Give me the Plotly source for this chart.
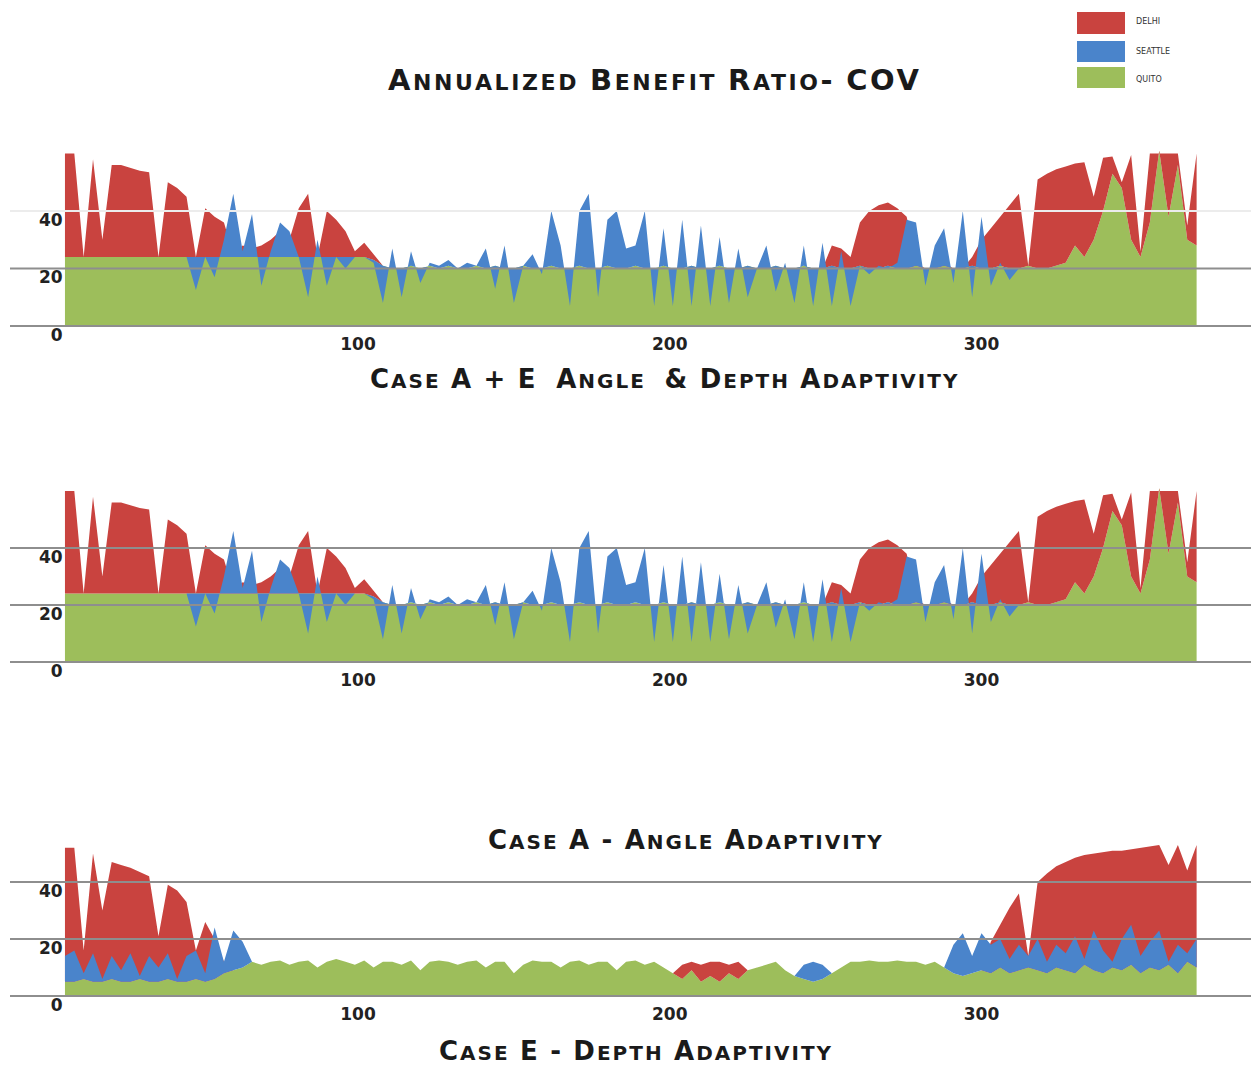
import plotly.graph_objects as go

# page offset of the figure inside the browser page (default body margin)
OFF = 8
W, H = 1259 - OFF, 1068 - OFF

days = list(range(6, 370, 3))

# ---- Case A + E (panels 1 & 2) ----
quito_ae = [24, 24, 24, 24, 24, 24, 24, 24, 24, 24, 24, 24, 24, 24, 24, 24, 24, 24, 24, 24,
            24, 24, 24, 24, 24, 24, 24, 24, 24, 24, 24, 24, 24, 23, 21, 20, 20, 21, 20, 21,
            20, 21, 20, 20, 21, 20, 21, 20, 20, 21, 20, 20, 21, 20, 20, 21, 20, 20, 21, 20,
            20, 21, 20, 20, 21, 20, 20, 21, 20, 20, 21, 20, 20, 21, 20, 20, 21, 20, 20, 21,
            20, 20, 21, 20, 20, 21, 20, 20, 21, 20, 20, 21, 20, 20, 21, 20, 20, 21, 20, 20,
            21, 20, 20, 21, 20, 20, 21, 22, 28, 24, 30, 40, 53, 48, 30, 24, 36, 61, 38, 56,
            30, 28]
delhi_ae = [60, 60, 24, 58, 30, 56, 56, 55, 54, 53.5, 24, 50, 48, 45, 24, 41, 38, 36, 25, 28,
            27, 28, 30, 33, 30, 41, 46, 24, 40, 37, 33, 26, 29, 25, 21, 20, 20, 21, 20, 21,
            20, 21, 20, 20, 21, 20, 21, 20, 20, 21, 20, 20, 21, 20, 20, 21, 20, 20, 21, 20,
            20, 21, 20, 20, 21, 20, 20, 21, 20, 20, 21, 20, 20, 21, 20, 20, 21, 20, 20, 21,
            20, 20, 28, 27, 24, 36, 40, 42, 43, 41, 38, 22, 20, 20, 22, 20, 20, 24, 30, 34,
            38, 42, 46, 21, 51, 53, 54.5, 55.5, 56.5, 57, 45, 58.5, 59, 50, 59.5, 26, 60, 60, 60, 60,
            35, 60]
seattle_ae = [24, 24, 24, 24, 24, 24, 24, 24, 24, 24, 24, 24, 24, 24, 12.5, 24, 17, 30, 46, 26,
              39, 14, 26, 36, 33, 24, 10, 30, 14, 24, 20, 24, 24, 22, 8, 27, 10, 26, 15, 22,
              21, 23, 20, 22, 21, 27, 13, 28, 8, 21, 25, 18, 40, 28, 7, 40, 46, 10, 37, 40,
              27, 28, 40, 7, 34, 7, 37, 7, 35, 7, 31, 8, 27, 10, 20, 28, 12, 22, 8, 28,
              7, 29, 7, 26, 7, 21, 18, 21, 20, 22, 37, 36, 14, 28, 34, 15, 40, 10, 38, 14,
              22, 16, 20, 21, 20, 20, 21, 22, 28, 24, 30, 40, 53, 48, 30, 24, 36, 61, 38, 56,
              30, 28]

# ---- Case E (panel 3) ----
quito_e = [5, 5, 6, 5, 5, 6, 5, 5, 6, 5, 5, 6, 5, 5, 6, 5, 6, 8, 9, 10,
           12, 11, 12, 12.5, 11, 12, 12.5, 10, 12, 13, 12, 11, 12.5, 10, 12, 12, 11, 12.5, 9, 12,
           12.5, 12, 11, 12, 12.5, 10, 12, 12, 8, 11, 12.5, 12, 12, 10, 12, 12.5, 11, 12, 12, 9,
           12, 12.5, 11, 12, 10, 8, 6, 9, 5, 7, 5, 8, 6, 9, 10, 11, 12, 9, 7, 6,
           5, 6, 8, 10, 12, 12, 12.5, 12, 12, 12.5, 12, 12, 11, 12, 10, 8, 7, 8, 9, 8,
           10, 8, 9, 10, 9, 8, 10, 9, 8, 11, 9, 8, 10, 9, 11, 8, 10, 9, 11, 8,
           12, 10]
delhi_e = [52, 52, 16, 50, 30, 47, 46, 45, 43.5, 42, 21, 39, 37, 33, 16, 26, 20, 12, 9, 10,
           12, 11, 12, 12.5, 11, 12, 12.5, 10, 12, 13, 12, 11, 12.5, 10, 12, 12, 11, 12.5, 9, 12,
           12.5, 12, 11, 12, 12.5, 10, 12, 12, 8, 11, 12.5, 12, 12, 10, 12, 12.5, 11, 12, 12, 9,
           12, 12.5, 11, 12, 10, 8, 11, 12, 11, 12, 12, 11, 12, 9, 10, 11, 12, 9, 7, 6,
           5, 6, 8, 10, 12, 12, 12.5, 12, 12, 12.5, 12, 12, 11, 12, 10, 8, 7, 8, 9, 19,
           25, 31, 36, 14, 40, 43, 45.5, 47, 48.5, 49.5, 50, 50.5, 51, 51, 51.5, 52, 52.5, 53, 46, 53,
           44, 53]
seattle_e = [14, 16, 8, 15, 6, 14, 9, 15, 7, 14, 10, 15, 6, 14, 16, 8, 24, 12, 23, 19,
             12, 11, 12, 12.5, 11, 12, 12.5, 10, 12, 13, 12, 11, 12.5, 10, 12, 12, 11, 12.5, 9, 12,
             12.5, 12, 11, 12, 12.5, 10, 12, 12, 8, 11, 12.5, 12, 12, 10, 12, 12.5, 11, 12, 12, 9,
             12, 12.5, 11, 12, 10, 8, 6, 9, 5, 7, 5, 8, 6, 9, 10, 11, 12, 9, 7, 11,
             12, 11, 8, 10, 12, 12, 12.5, 12, 12, 12.5, 12, 12, 11, 12, 10, 18, 22, 14, 22, 18,
             20, 13, 18, 14, 20, 12, 18, 15, 21, 13, 23, 16, 12, 20, 25, 14, 19, 23, 12, 18,
             15, 20]

x_tick_vals = [100, 200, 300]
y_tick_vals = [0, 20, 40]
y_tick_text = ["\u20070", "20", "40"]
city_names = ["DELHI", "SEATTLE", "QUITO"]
city_colors = {"DELHI": "#C9433F", "SEATTLE": "#4A84CB", "QUITO": "#9DBE5B"}

panels = [
    (quito_ae, delhi_ae, seattle_ae),
    (quito_ae, delhi_ae, seattle_ae),
    (quito_e, delhi_e, seattle_e),
]


def px_x(p):
    return (p - OFF) / W


def px_y(p):
    return 1 - (p - OFF) / H


# page-pixel layout of each panel: (y pixel of value 0, pixels per unit)
panel_px = [(326, 2.875), (662, 2.85), (996, 2.85)]
grid_colors = [["#8e8e8e", "#8e8e8e", "#ececec"], ["#8e8e8e"] * 3, ["#8e8e8e"] * 3]
y_lo, y_hi = -7, 64
x_px_left, x_px_right = 10, 1259
px_per_day, day0_px = 3.1175, 46.25

fig = go.Figure()
for k, (q, d, s) in enumerate(panels):
    ax = "" if k == 0 else str(k + 1)
    xa, ya = "x" + ax, "y" + ax
    fig.add_trace(go.Scatter(x=days, y=q, xaxis=xa, yaxis=ya, mode="lines", fill="tozeroy",
                             fillcolor=city_colors["QUITO"], line=dict(width=0, color=city_colors["QUITO"]),
                             name="QUITO", showlegend=False))
    fig.add_trace(go.Scatter(x=days, y=d, xaxis=xa, yaxis=ya, mode="lines", fill="tonexty",
                             fillcolor=city_colors["DELHI"], line=dict(width=0, color=city_colors["DELHI"]),
                             name="DELHI", showlegend=False))
    fig.add_trace(go.Scatter(x=days, y=q, xaxis=xa, yaxis=ya, mode="lines",
                             line=dict(width=0, color=city_colors["QUITO"]), hoverinfo="skip",
                             showlegend=False))
    fig.add_trace(go.Scatter(x=days, y=s, xaxis=xa, yaxis=ya, mode="lines", fill="tonexty",
                             fillcolor=city_colors["SEATTLE"], line=dict(width=0, color=city_colors["SEATTLE"]),
                             name="SEATTLE", showlegend=False))

x_range = [(x_px_left - day0_px) / px_per_day, (x_px_right - day0_px) / px_per_day]
tick_font = dict(family="DejaVu Sans", size=17, color="#222222", weight="bold")
layout_axes = {}
shapes = []
for k, (zero_px, ppu) in enumerate(panel_px):
    ax = "" if k == 0 else str(k + 1)
    bottom_px = zero_px - y_lo * ppu
    top_px = zero_px - y_hi * ppu
    dom = [px_y(bottom_px), px_y(top_px)]
    layout_axes["xaxis" + ax] = dict(domain=[px_x(x_px_left), min(1, px_x(x_px_right))], range=x_range,
                                     anchor="free", position=px_y(zero_px + 5.75),
                                     tickvals=x_tick_vals, showgrid=False,
                                     zeroline=False, showline=False, ticks="", tickfont=tick_font)
    layout_axes["yaxis" + ax] = dict(domain=dom, range=[y_lo, y_hi], anchor="x" + ax,
                                     tickvals=y_tick_vals, ticktext=y_tick_text, showgrid=False,
                                     zeroline=False, showline=False, ticks="",
                                     ticklabelposition="inside", ticklabelstandoff=26,
                                     ticklabelshift=9, tickfont=tick_font)
    for gv, gc in zip(y_tick_vals, grid_colors[k]):
        shapes.append(dict(type="line", xref="paper", yref="y" + ax, x0=px_x(x_px_left), x1=1,
                           y0=gv, y1=gv, line=dict(color=gc, width=2), layer="above"))
fig.update_layout(**layout_axes)


def small_caps(text, big, small, spacing):
    out = []
    for ch in text:
        if ch.islower():
            out.append('<span style="font-size:%dpx;letter-spacing:%spx">%s</span>' % (small, spacing, ch.upper()))
        elif ch == " ":
            out.append('<span style="letter-spacing:%spx"> </span>' % spacing)
        else:
            out.append('<span style="font-size:%dpx;letter-spacing:%spx">%s</span>' % (big, spacing, ch))
    return "".join(out)


title_font = dict(family="DejaVu Sans", size=24, color="#1a1a1a", weight="bold")
titles = [
    ("Annualized Benefit Ratio- COV", 655, 80, 29, 22, 2.6),
    ("Case A + E&nbsp; Angle&nbsp; &amp; Depth Adaptivity", 664, 379, 26, 20, 2),
    ("Case A - Angle Adaptivity", 686, 840, 26, 20, 2),
    ("Case E - Depth Adaptivity", 636, 1051, 26, 20, 2),
]
annotations = []
for txt, cx, cy, big, small, sp in titles:
    parts = txt.split("&")
    html = ""
    for j, p in enumerate(parts):
        if j == 0:
            html += small_caps(p, big, small, sp)
        else:
            ent, rest = p.split(";", 1)
            if ent == "nbsp":
                html += "&nbsp;"
            else:
                html += '<span style="font-size:%dpx;letter-spacing:%spx">&amp;</span>' % (big, sp)
            html += small_caps(rest, big, small, sp)
    annotations.append(dict(text=html, x=px_x(cx), y=px_y(cy), xref="paper", yref="paper",
                            xanchor="center", yanchor="middle", showarrow=False, font=title_font))

# legend swatches
legend_rows = [(12, 34, 22), (41, 62, 52), (67, 88, 79)]
for name, (y0, y1, ty) in zip(city_names, legend_rows):
    shapes.append(dict(type="rect", xref="paper", yref="paper", x0=px_x(1077), x1=px_x(1125),
                       y0=px_y(y1), y1=px_y(y0), fillcolor=city_colors[name], line=dict(width=0)))
    annotations.append(dict(text=name, x=px_x(1134), y=px_y(ty), xref="paper", yref="paper",
                            xanchor="left", yanchor="middle", showarrow=False,
                            font=dict(family="DejaVu Sans", size=8, color="#333333")))

fig.update_layout(width=W, height=H, margin=dict(l=0, r=0, t=0, b=0),
                  paper_bgcolor="white", plot_bgcolor="white",
                  annotations=annotations, shapes=shapes, showlegend=False)

fig.write_html("out.html")
